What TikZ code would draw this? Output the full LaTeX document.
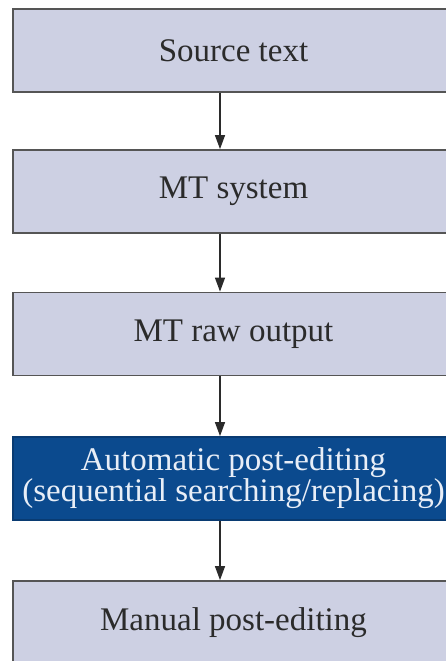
\documentclass[tikz,border=0pt]{standalone}
\usepackage{fontspec}
\setmainfont{Liberation Serif}
\usetikzlibrary{arrows.meta}
\definecolor{boxfill}{HTML}{CDD0E3}
\definecolor{boxline}{HTML}{555555}
\definecolor{boxtext}{HTML}{2B2B2B}
\definecolor{apefill}{HTML}{0B4A8E}
\definecolor{apetext}{HTML}{E8EEF7}
\tikzset{
  x=1pt, y=1pt,
  stage/.style={draw=boxline, line width=1.8pt, fill=boxfill, text=boxtext,
    minimum width=441pt, minimum height=83pt, inner sep=0pt,
    font=\fontsize{33}{30}\selectfont},
  apestage/.style={stage, draw=apefill!80!black, fill=apefill, text=apetext, align=center},
  flow/.style={draw=boxtext, line width=1.4pt, -{Triangle[length=14pt,width=10pt]}}
}
\begin{document}
\begin{tikzpicture}
  \clip (0,0) rectangle (446,-661);
  \node[stage] (src) at (233.5,-50.5) {Source text};
  \node[stage] (mt)  at (233.5,-191.5) {MT system};
  \node[stage] (raw) at (233.5,-334) {MT raw output};
  \node[apestage] (ape) at (233.5,-478.5) {Automatic post-editing\\(sequential searching/replacing)};
  \node[stage] (man) at (233.5,-622.5) {Manual post-editing};
  \draw[flow] (src.south -| 220,0) -- (mt.north -| 220,0);
  \draw[flow] (mt.south -| 220,0) -- (raw.north -| 220,0);
  \draw[flow] (raw.south -| 220,0) -- (ape.north -| 220,0);
  \draw[flow] (ape.south -| 220,0) -- (man.north -| 220,0);
\end{tikzpicture}
\end{document}
